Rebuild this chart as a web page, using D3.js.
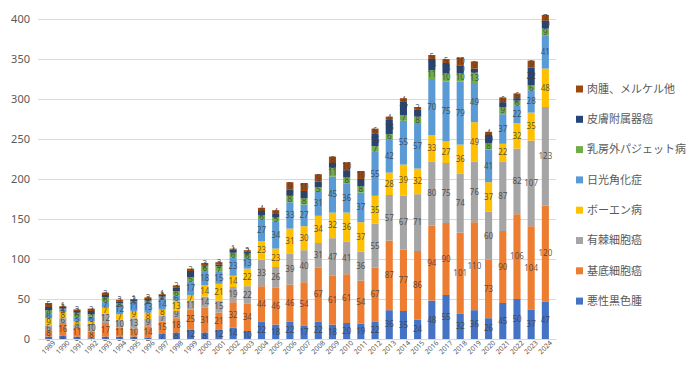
<!DOCTYPE html>
<html>
<head>
<meta charset="utf-8">
<script src="https://cdn.jsdelivr.net/npm/d3@7"></script>
<style>
  body { margin: 0; background: #fff; }
  #chart { width: 700px; height: 372px; }
  text { font-family: "Noto Sans CJK JP", "Noto Sans", sans-serif; }
</style>
</head>
<body>
<div id="chart"></div>
<script>
// year labels
const years = ["1989","1990","1991","1992","1993","1994","1995","1996","1997","1998",
  "1999","2000","2001","2002","2003","2004","2005","2006","2007","2008",
  "2009","2010","2011","2012","2013","2014","2015","2016","2017","2018",
  "2019","2020","2021","2022","2023","2024"];

// series, bottom to top
const melanoma = [3,4,3,1,3,3,3,2,7,8,12,8,12,14,10,22,18,22,17,22,18,20,19,22,36,35,24,48,55,32,36,26,45,50,37,47];
const bcc      = [8,16,11,8,17,11,10,14,15,18,25,31,21,32,34,44,46,46,54,67,61,61,54,67,87,77,86,94,90,101,110,73,90,106,104,120];
const scc      = [6,6,4,10,12,10,13,9,7,9,11,14,15,19,22,33,26,39,40,31,47,41,36,55,57,67,71,80,75,74,76,60,87,82,107,123];
const bowen    = [9,8,4,3,7,7,9,8,8,13,7,14,21,14,22,23,23,31,30,34,32,36,37,35,28,39,32,33,27,36,49,37,22,32,35,48];
const ak       = [6,3,5,6,7,12,11,13,14,6,17,18,15,23,13,27,34,33,27,31,45,36,37,55,42,55,57,70,75,79,49,41,37,22,28,41];
const paget    = [4,1,6,3,6,2,1,2,2,6,5,6,7,6,6,6,5,8,8,5,11,8,8,7,6,7,8,11,10,10,13,8,9,6,6,9];
const adnexal  = [4,2,2,4,3,2,2,2,2,4,8,1,2,4,2,5,5,8,9,7,6,9,9,16,18,17,9,14,13,10,5,10,6,3,22,10];
const sarcoma  = [5,1,2,3,3,2,1,2,1,3,3,3,3,1,2,4,4,9,10,9,8,10,10,6,4,4,3,5,5,10,9,4,6,6,9,7];

const seriesNames = ["悪性黒色腫","基底細胞癌","有棘細胞癌","ボーエン病","日光角化症","乳房外パジェット病","皮膚附属器癌","肉腫、メルケル他"];
const seriesValues = [melanoma, bcc, scc, bowen, ak, paget, adnexal, sarcoma];
const colors = ["#4472C4","#ED7D31","#A5A5A5","#FFC000","#5B9BD5","#70AD47","#264478","#9E480E"];
const yTicks = [0,50,100,150,200,250,300,350,400];

const width = 700, height = 372;
const margin = { top: 19, right: 144, bottom: 33, left: 38 };

const rows = years.map((y, i) => {
  const r = { year: y };
  seriesNames.forEach((s, k) => r[s] = seriesValues[k][i]);
  return r;
});
const stacked = d3.stack().keys(seriesNames)(rows);

const x = d3.scaleBand()
  .domain(years)
  .range([margin.left, width - margin.right])
  .padding(0.5);

const y = d3.scaleLinear()
  .domain([0, 400])
  .range([height - margin.bottom, margin.top]);

const color = d3.scaleOrdinal().domain(seriesNames).range(colors);

const svg = d3.create("svg")
  .attr("width", width)
  .attr("height", height)
  .attr("viewBox", [0, 0, width, height]);
d3.select("#chart").append(() => svg.node());

// gridlines
svg.append("g")
  .selectAll("line")
  .data(yTicks)
  .join("line")
    .attr("x1", margin.left)
    .attr("x2", width - margin.right)
    .attr("y1", d => y(d) + 0.5)
    .attr("y2", d => y(d) + 0.5)
    .attr("stroke", "#d9d9d9")
    .attr("stroke-width", 1);

// y axis labels
const yAxis = g => g
  .attr("transform", `translate(${margin.left},0)`)
  .call(d3.axisLeft(y).tickValues(yTicks).tickSize(0).tickPadding(8))
  .call(g => g.select(".domain").remove())
  .call(g => g.selectAll("text")
    .attr("fill", "#595959")
    .style("font-size", "11px")
    .style("font-family", "'Noto Sans', sans-serif"));
svg.append("g").call(yAxis);

// bars
const layer = svg.append("g")
  .selectAll("g")
  .data(stacked)
  .join("g")
    .attr("fill", d => color(d.key));

layer.selectAll("rect")
  .data(d => d)
  .join("rect")
    .attr("x", d => x(d.data.year))
    .attr("y", d => y(d[1]))
    .attr("height", d => y(d[0]) - y(d[1]))
    .attr("width", x.bandwidth());

// data labels
layer.selectAll("text")
  .data(d => d.map(v => ({ v, key: d.key })))
  .join("text")
    .attr("x", d => x(d.v.data.year) + x.bandwidth() / 2)
    .attr("y", d => (y(d.v[0]) + y(d.v[1])) / 2)
    .attr("dy", "0.35em")
    .attr("text-anchor", "middle")
    .attr("fill", "#404040")
    .attr("fill-opacity", 0.85)
    .style("font-size", "8px")
    .style("font-family", "'Noto Sans', sans-serif")
    .text(d => d.v[1] - d.v[0]);

// x axis
const xAxis = g => g
  .attr("transform", `translate(0,${height - margin.bottom})`)
  .call(d3.axisBottom(x).tickSize(0).tickPadding(4))
  .call(g => g.select(".domain").attr("stroke", "#d9d9d9"));
svg.append("g")
  .call(xAxis)
  .selectAll("text")
    .attr("fill", "#595959")
    .style("font-size", "7px")
    .style("font-family", "'Noto Sans', sans-serif")
    .style("text-anchor", "end")
    .attr("dx", "0.3em")
    .attr("dy", "0.6em")
    .attr("transform", "rotate(-45)");

// legend, top entry is last series
const legend = svg.append("g")
  .selectAll("g")
  .data(seriesNames.slice().reverse())
  .join("g")
    .attr("transform", (d, i) => `translate(576,${89 + i * 30.3})`);
legend.append("rect")
  .attr("x", 0).attr("y", -3.5)
  .attr("width", 7).attr("height", 7)
  .attr("fill", d => color(d));
legend.append("text")
  .attr("x", 11)
  .attr("dy", "0.35em")
  .attr("fill", "#595959")
  .style("font-size", "11px")
  .text(d => d);
</script>
</body>
</html>
